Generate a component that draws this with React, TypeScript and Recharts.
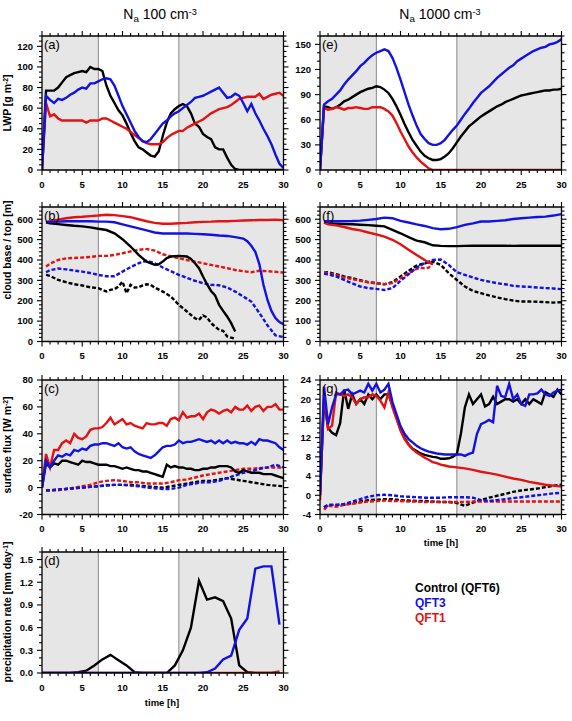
import React from "react";
import { LineChart, Line, XAxis, YAxis, ReferenceArea, ReferenceLine } from "recharts";

const BLACK = "#000000";
const BLUE = "#1212e4";
const RED = "#e41212";
const SHADE = "#e6e6e6";
const FONT = '"Liberation Sans", Arial, Helvetica, sans-serif';

// ---- time axes [h] ----
const T_HALF = [0, 0.5, 1, 1.5, 2, 2.5, 3, 3.5, 4, 4.5, 5, 5.5, 6, 6.5, 7, 7.5, 8, 8.5, 9, 9.5, 10, 10.5, 11, 11.5, 12, 12.5, 13, 13.5, 14, 14.5, 15, 15.5, 16, 16.5, 17, 17.5, 18, 18.5, 19, 19.5, 20, 20.5, 21, 21.5, 22, 22.5, 23, 23.5, 24, 24.5, 25, 25.5, 26, 26.5, 27, 27.5, 28, 28.5, 29, 29.5, 30];
const T_HOUR = [0.5, 1, 2, 3, 4, 5, 6, 7, 8, 9, 10, 11, 12, 13, 14, 15, 16, 17, 18, 19, 20, 21, 22, 23, 24, 25, 26, 27, 28, 29, 30];
const T_PRECIP = [0, 0.5, 1.5, 2.5, 3.5, 4.5, 5.5, 6.5, 7.5, 8.5, 9.5, 10.5, 11.5, 12.5, 13.5, 14.5, 15.5, 16.5, 17.5, 18.5, 19.5, 20.5, 21.5, 22.5, 23.5, 24.5, 25.5, 26.5, 27.5, 28.5, 29.5];

const X_MAJOR = [0, 5, 10, 15, 20, 25, 30];

// ---- (a) LWP, Na 100 ----
const A_CTRL = [0, 77, 77, 77, 80, 85, 90, 92, 94, 95, 96, 95, 100, 98, 98, 96, 82, 72, 65, 58, 53, 45, 36, 28, 22, 20, 17, 14, 13, 18, 33, 46, 55, 59, 62, 64, 62, 55, 45, 42, 35, 32, 30, 22, 20, 20, 12, 5, 1, 0, 0, 0, 0, 0, 0, 0, 0, 0, 0, 0, 0];
const A_QFT3 = [0, 72, 68, 65, 69, 68, 70, 73, 75, 78, 80, 79, 84, 84, 86, 88, 89, 88, 82, 72, 62, 54, 46, 38, 32, 28, 27, 30, 35, 40, 45, 48, 52, 55, 57, 60, 63, 66, 70, 71, 72, 74, 76, 78, 80, 75, 70, 71, 74, 72, 65, 57, 64, 55, 48, 40, 33, 25, 15, 6, 2];
const A_QFT1 = [0, 65, 52, 54, 50, 48, 48, 48, 48, 48, 48, 46, 48, 48, 48, 50, 50, 48, 46, 44, 42, 40, 37, 34, 31, 28, 26, 25, 25, 25, 27, 31, 34, 36, 38, 38, 41, 43, 45, 47, 49, 52, 55, 57, 59, 60, 61, 63, 66, 69, 70, 71, 71, 71, 74, 69, 71, 73, 74, 75, 72];

// ---- (e) LWP, Na 1000 ----
const E_CTRL = [0, 76, 75, 73, 75, 78, 82, 84, 87, 90, 93, 95, 97, 98, 100, 99, 96, 92, 85, 76, 66, 55, 45, 36, 29, 22, 17, 14, 12, 12, 13, 16, 20, 26, 33, 40, 46, 52, 56, 60, 64, 67, 70, 73, 76, 78, 81, 83, 85, 87, 89, 90, 91, 92, 93, 94, 95, 95, 96, 96, 97];
const E_QFT3 = [0, 78, 82, 85, 90, 95, 102, 108, 113, 118, 124, 128, 133, 137, 140, 142, 144, 142, 134, 122, 108, 93, 78, 65, 53, 43, 37, 32, 30, 30, 32, 36, 42, 48, 53, 60, 67, 73, 80, 86, 92, 96, 100, 105, 110, 114, 118, 122, 125, 130, 133, 136, 139, 142, 144, 146, 147, 150, 151, 153, 156];
const E_QFT1 = [0, 74, 72, 73, 75, 74, 72, 74, 74, 75, 74, 73, 73, 75, 75, 75, 73, 70, 65, 56, 46, 37, 28, 21, 15, 10, 6, 2, 0, 0, 0, 0, 0, 0, 0, 0, 0, 0, 0, 0, 0, 0, 0, 0, 0, 0, 0, 0, 0, 0, 0, 0, 0, 0, 0, 0, 0, 0, 0, 0, 0];

// ---- (b) cloud top (solid) / base (dashed), Na 100 ----
const T_B_CTRL = [0.5, 1, 2, 3, 4, 5, 6, 7, 8, 9, 10, 11, 12, 13, 14, 14.5, 15, 15.5, 16, 17, 18, 18.5, 19, 19.5, 20, 20.5, 21, 21.5, 22, 22.5, 23, 23.5, 24];
const B_CTRL_TOP = [585, 580, 576, 572, 568, 565, 560, 553, 547, 531, 502, 466, 425, 392, 376, 379, 392, 409, 417, 420, 417, 405, 384, 360, 319, 281, 248, 226, 180, 150, 123, 90, 49];
const T_B_CTRL_BASE = [0.5, 1, 2, 3, 4, 5, 6, 7, 8, 8.5, 9, 9.5, 10, 10.5, 11, 11.5, 12, 12.5, 13, 13.5, 14, 15, 16, 17, 18, 19, 19.5, 20, 20.5, 21, 22, 22.5, 23, 24];
const B_CTRL_BASE = [327, 322, 302, 291, 281, 275, 266, 262, 245, 253, 257, 270, 294, 237, 278, 265, 266, 275, 281, 278, 265, 245, 221, 180, 147, 114, 106, 128, 118, 90, 57, 52, 25, 13];
const T_B_QFT3 = [0.5, 1, 2, 3, 4, 5, 6, 7, 8, 9, 10, 11, 12, 13, 14, 15, 16, 17, 18, 19, 20, 21, 22, 23, 24, 25, 25.5, 26, 26.5, 27, 27.5, 28, 28.5, 29, 29.5, 30];
const B_QFT3_TOP = [585, 587, 588, 590, 590, 590, 590, 588, 588, 585, 575, 565, 555, 545, 535, 530, 530, 530, 530, 528, 526, 524, 520, 518, 512, 505, 492, 470, 440, 380, 280, 205, 150, 115, 95, 85];
const B_QFT3_BASE = [340, 350, 358, 354, 348, 343, 336, 327, 320, 320, 343, 365, 384, 396, 384, 363, 345, 327, 312, 298, 286, 278, 276, 265, 245, 221, 196, 140, 80, 30, 22];
const B_QFT1_TOP = [585, 590, 598, 605, 610, 612, 615, 618, 622, 620, 615, 610, 600, 590, 582, 578, 578, 580, 582, 585, 587, 588, 590, 590, 592, 594, 595, 596, 596, 598, 595];
const B_QFT1_BASE = [368, 382, 400, 408, 410, 412, 415, 420, 420, 425, 433, 442, 450, 454, 446, 428, 418, 409, 400, 392, 384, 376, 368, 360, 351, 345, 340, 347, 345, 342, 338];

// ---- (f) cloud top / base, Na 1000 ----
const F_CTRL_TOP = [582, 580, 578, 576, 575, 573, 571, 568, 565, 548, 531, 512, 495, 487, 472, 469, 468, 468, 469, 470, 470, 470, 470, 470, 469, 470, 470, 470, 470, 470, 470];
const F_CTRL_BASE = [338, 340, 330, 319, 311, 301, 291, 286, 281, 291, 319, 347, 373, 384, 392, 376, 335, 302, 270, 248, 237, 226, 216, 208, 201, 196, 196, 195, 193, 191, 193];
const F_QFT3_TOP = [590, 590, 590, 590, 591, 593, 597, 601, 608, 605, 592, 584, 575, 567, 556, 551, 553, 561, 572, 580, 589, 589, 592, 595, 601, 605, 608, 611, 613, 618, 625];
const F_QFT3_BASE = [332, 330, 319, 302, 286, 270, 262, 258, 253, 262, 298, 330, 363, 384, 400, 402, 376, 340, 327, 314, 302, 294, 286, 281, 273, 270, 268, 265, 262, 260, 257];
const T_F_QFT1_TOP = [0.5, 1, 2, 3, 4, 5, 6, 7, 8, 9, 10, 11, 12, 13, 13.5, 14];
const F_QFT1_TOP = [585, 575, 570, 562, 552, 545, 535, 526, 515, 499, 477, 450, 425, 400, 388, 380];
const T_F_QFT1_BASE = [0.5, 1, 2, 3, 4, 5, 6, 7, 8, 9, 10, 11, 12, 12.5, 13, 13.5, 14];
const F_QFT1_BASE = [335, 335, 327, 314, 306, 298, 291, 286, 281, 286, 311, 335, 356, 362, 359, 362, 384];

// ---- (c) surface flux, Na 100 (solid / dashed) ----
const C_CTRL = [0, 18, 15, 18, 17, 20, 20, 19, 18, 17, 20, 19, 19, 18, 17, 17, 17, 16, 16, 15, 14, 15, 14, 13, 13, 12, 12, 11, 10, 9, 8, 17, 15, 16, 15, 15, 14, 14, 13, 13, 14, 14, 15, 15, 16, 16, 16, 15, 12, 11, 13, 12, 11, 11, 11, 10, 10, 10, 9, 8, 7];
const C_QFT3 = [0, 20, 15, 20, 24, 23, 25, 24, 28, 27, 29, 28, 31, 32, 32, 33, 33, 32, 31, 33, 30, 29, 30, 27, 25, 24, 23, 22, 24, 27, 30, 31, 31, 32, 35, 33, 34, 34, 35, 36, 35, 34, 35, 33, 35, 33, 35, 33, 34, 33, 33, 32, 34, 32, 36, 35, 35, 34, 33, 30, 28];
const C_QFT1 = [0, 25, 15, 28, 28, 33, 35, 33, 40, 37, 36, 38, 43, 44, 44, 45, 48, 52, 47, 49, 51, 47, 48, 46, 45, 44, 48, 47, 47, 48, 48, 46, 51, 52, 50, 56, 52, 53, 53, 55, 51, 56, 58, 57, 55, 57, 58, 56, 60, 58, 58, 61, 57, 60, 61, 57, 60, 60, 62, 58, 58];
const C_CTRL_DASH = [-2, -2, -1.5, -1, -0.5, 0, 0.5, 1, 1.5, 2, 2, 2, 1.5, 1, 0.5, 0, 1, 2, 3, 4, 5, 5, 6, 7, 6, 5, 4, 3, 2, 1.5, 1];
const C_QFT3_DASH = [-2, -2, -1.5, -1, -0.5, 0, 0.5, 1, 2, 2, 2, 1.5, 1, 0, -0.5, -1, -1, 0, 2, 3, 4, 4, 5, 7, 9, 11, 12, 14, 15, 17, 15];
const C_QFT1_DASH = [-2, -2, -2, -1, 0, 1, 2, 4, 5, 5.5, 5, 4, 4, 3, 3, 3, 4, 5.5, 6, 7.5, 9, 10, 11, 12, 13, 14, 14, 14.5, 15, 15, 15];

// ---- (g) surface flux, Na 1000 ----
const G_CTRL = [0, 20, 14, 13, 12.5, 15, 22, 18, 21, 19, 20, 19, 21, 20, 21, 20, 21, 21, 18.7, 16.2, 13.7, 11.9, 10.6, 9.7, 9.2, 8.7, 8.4, 8.2, 8, 7.9, 7.6, 7.6, 7.7, 8, 8.6, 12.8, 18.3, 21, 19, 20, 21, 18.5, 19, 20.5, 19, 19.5, 20, 20, 19.5, 20, 19, 20, 19, 20, 19.5, 19, 21.5, 21, 20.5, 22, 21];
const G_QFT3 = [0, 22.6, 14.8, 18.3, 21, 21, 21.8, 22, 21, 21.4, 21.8, 21.4, 23.2, 21.8, 23.2, 21.4, 22, 23.2, 19.4, 16.9, 14.4, 12.8, 11.7, 11, 10.3, 9.8, 9.4, 9.1, 8.9, 8.7, 8.6, 8.5, 8.5, 8.5, 8.5, 8.5, 8.2, 8.6, 8.9, 12.8, 14.8, 15.2, 15.7, 15.2, 22.8, 20.7, 20.4, 23.2, 20, 21, 19, 18.6, 21, 21, 21.2, 22, 21, 20.7, 21.4, 21.8, 22];
const T_G_QFT1 = [0, 0.5, 1, 1.5, 2, 2.5, 3, 3.5, 4, 4.5, 5, 5.5, 6, 6.5, 7, 7.5, 8, 8.5, 9, 9.5, 10, 10.5, 11, 11.5, 12, 12.5, 13, 13.5, 14, 14.5, 15, 15.5, 16, 17, 18, 19, 20, 21, 22, 23, 24, 25, 26, 27, 28, 29, 30];
const G_QFT1 = [-1, 21, 13.8, 14.5, 21.4, 21, 20.7, 21, 20.4, 19, 20, 20.4, 20.4, 21, 20.7, 19.7, 18.3, 21.4, 18.3, 15.9, 13.5, 11.7, 10.5, 9.6, 8.9, 8.4, 7.8, 7.4, 6.9, 6.7, 6.4, 6.2, 6, 5.8, 5.6, 5.3, 4.9, 4.6, 4.3, 3.9, 3.5, 3.2, 2.8, 2.5, 2.2, 2, 1.8];
const G_CTRL_DASH = [-2.5, -2, -2, -2, -1.6, -1.3, -1, -0.9, -0.8, -0.8, -1, -1.1, -1.2, -1.2, -1.3, -1.4, -1.4, -1.6, -2.2, -1.5, -1, -0.5, -0.1, 0.3, 0.7, 1, 1.2, 1.4, 1.7, 2, 2.2];
const G_QFT3_DASH = [-2.5, -2, -2, -1.8, -1.3, -0.8, -0.3, 0, 0.1, 0, -0.2, -0.3, -0.4, -0.5, -0.5, -0.5, -0.4, -0.4, -0.4, -0.5, -1, -1.2, -1, -0.8, -0.6, -0.4, -0.2, 0, 0.2, 0.4, 0.5];
const G_QFT1_DASH = [-3, -2.2, -2.4, -2, -1.8, -1.5, -1.3, -1.2, -1.1, -1.2, -1.2, -1.3, -1.3, -1.4, -1.4, -1.4, -1.4, -1.4, -1.4, -1.3, -1.3, -1.3, -1.3, -1.3, -1.3, -1.3, -1.3, -1.3, -1.3, -1.3, -1.3];

// ---- (d) precipitation rate, Na 100 ----
const D_CTRL = [0, 0, 0, 0, 0, 0.01, 0.03, 0.1, 0.18, 0.24, 0.17, 0.1, 0.01, 0, 0, 0, 0, 0.1, 0.3, 0.6, 1.22, 0.97, 1.0, 0.95, 0.72, 0.1, 0.01, 0, 0, 0, 0];
const D_QFT3 = [0, 0, 0, 0, 0, 0, 0, 0, 0, 0, 0, 0, 0, 0, 0, 0, 0, 0, 0, 0, 0, 0.01, 0.06, 0.18, 0.23, 0.57, 0.72, 1.38, 1.41, 1.41, 0.64];
const D_QFT1 = [0, 0, 0, 0, 0, 0, 0, 0, 0, 0, 0, 0, 0, 0, 0, 0, 0, 0, 0, 0, 0, 0, 0, 0, 0, 0, 0, 0, 0, 0, 0.02];

type Series = { t: number[]; v: number[]; color: string; dashed?: boolean };

const zip = (t: number[], v: number[]) => t.map((x, i) => ({ t: x, v: v[i] }));

function tickRange(lo: number, hi: number, step: number) {
  const out: number[] = [];
  const start = Math.ceil(lo / step - 1e-9);
  for (let i = start; i * step <= hi + 1e-9; i++) out.push(Math.round(i * step * 1e6) / 1e6);
  return out;
}
const isMajor = (v: number, majors: number[]) => majors.some((m) => Math.abs(m - v) < 1e-6);

const TICK_STYLE = { stroke: "#000", strokeWidth: 1.1 };
const LABEL_STYLE = { fontFamily: FONT, fontSize: 9.5, fontWeight: "bold" as const, fill: "#000" };

function makeTick(side: string, majors: number[], fmt?: (v: number) => string) {
  return (p: any) => {
    const v = p.payload.value;
    const major = isMajor(v, majors);
    const len = major ? 5 : 3;
    const { x, y } = p;
    if (side === "bottom")
      return (
        <g>
          <line x1={x} x2={x} y1={y} y2={y + len} {...TICK_STYLE} />
          {major && fmt && (
            <text x={x} y={y + 17.5} textAnchor="middle" style={LABEL_STYLE}>
              {fmt(v)}
            </text>
          )}
        </g>
      );
    if (side === "top") return <line x1={x} x2={x} y1={y} y2={y - len} {...TICK_STYLE} />;
    if (side === "left")
      return (
        <g>
          <line x1={x} x2={x - len} y1={y} y2={y} {...TICK_STYLE} />
          {major && fmt && (
            <text x={x - 9} y={y + 3.3} textAnchor="end" style={LABEL_STYLE}>
              {fmt(v)}
            </text>
          )}
        </g>
      );
    return <line x1={x} x2={x + len} y1={y} y2={y} {...TICK_STYLE} />;
  };
}

type PanelProps = {
  left: number;
  top: number;
  w: number;
  h: number;
  yDomain: [number, number];
  yMajor: number[];
  yMinor: number;
  decimals: number;
  series: Series[];
  tag: string;
};

// space kept round the plot area for ticks and tick labels
const ML = 40;
const MT = 10;
const MR = 10;
const MB = 24;

function Panel({ left, top, w, h, yDomain, yMajor, yMinor, decimals, series, tag }: PanelProps) {
  const xTicks = tickRange(0, 30, 1);
  const yTicks = tickRange(yDomain[0], yDomain[1], yMinor);
  const yFmt = (v: number) => v.toFixed(decimals);
  const xFmt = (v: number) => String(v);
  const frame = { stroke: "#000", strokeWidth: 1.3 };
  return (
    <div style={{ position: "absolute", left: left - ML, top: top - MT }}>
      <LineChart width={w + ML + MR} height={h + MT + MB} margin={{ top: 0, right: 0, bottom: 0, left: 0 }}>
        <XAxis xAxisId="b" type="number" dataKey="t" domain={[0, 30]} allowDataOverflow ticks={xTicks} interval={0}
          height={MB} tickSize={0} tickMargin={0} tickLine={false} axisLine={frame} tick={makeTick("bottom", X_MAJOR, xFmt)} />
        <XAxis xAxisId="t" orientation="top" type="number" dataKey="t" domain={[0, 30]} allowDataOverflow ticks={xTicks} interval={0}
          height={MT} tickSize={0} tickMargin={0} tickLine={false} axisLine={frame} tick={makeTick("top", X_MAJOR)} />
        <YAxis yAxisId="l" type="number" domain={yDomain} allowDataOverflow ticks={yTicks} interval={0}
          width={ML} tickSize={0} tickMargin={0} tickLine={false} axisLine={frame} tick={makeTick("left", yMajor, yFmt)} />
        <YAxis yAxisId="r" orientation="right" type="number" domain={yDomain} allowDataOverflow ticks={yTicks} interval={0}
          width={MR} tickSize={0} tickMargin={0} tickLine={false} axisLine={frame} tick={makeTick("right", yMajor)} />
        <ReferenceArea xAxisId="b" yAxisId="l" x1={0} x2={7} fill={SHADE} fillOpacity={1} stroke="none" />
        <ReferenceArea xAxisId="b" yAxisId="l" x1={17} x2={30} fill={SHADE} fillOpacity={1} stroke="none" />
        <ReferenceLine xAxisId="b" yAxisId="l" x={7} stroke="#8a8a8a" strokeWidth={1} />
        <ReferenceLine xAxisId="b" yAxisId="l" x={17} stroke="#8a8a8a" strokeWidth={1} />
        {series.map((s, i) => (
          <Line
            key={i}
            xAxisId="b"
            yAxisId="l"
            data={zip(s.t, s.v)}
            dataKey="v"
            type="linear"
            stroke={s.color}
            strokeWidth={2.4}
            strokeDasharray={s.dashed ? "4 2" : undefined}
            dot={false}
            activeDot={false}
            isAnimationActive={false}
          />
        ))}
      </LineChart>
      <div style={{ position: "absolute", left: ML + 2, top: MT + 1, fontFamily: FONT, fontSize: 13, lineHeight: "15px" }}>{tag}</div>
    </div>
  );
}

const LX = 42;
const RX = 320;
const PW = 241.5;

function YTitle({ cy, children }: { cy: number; children: React.ReactNode }) {
  return (
    <div style={{ position: "absolute", left: 7, top: cy, transform: "translate(-50%, -50%) rotate(-90deg)", whiteSpace: "nowrap",
      fontFamily: FONT, fontSize: 10.5, fontWeight: "bold" }}>
      {children}
    </div>
  );
}

function Centered({ cx, cy, size, bold, children }: { cx: number; cy: number; size: number; bold?: boolean; children: React.ReactNode }) {
  return (
    <div style={{ position: "absolute", left: cx, top: cy, transform: "translate(-50%, -50%)", whiteSpace: "nowrap",
      fontFamily: FONT, fontSize: size, fontWeight: bold ? "bold" : "normal" }}>
      {children}
    </div>
  );
}

const sup = { fontSize: "0.65em", verticalAlign: "0.5em" } as const;
const sub = { fontSize: "0.7em", verticalAlign: "-0.25em" } as const;

export default function App() {
  const ab = [0, 20, 40, 60, 80, 100, 120];
  const ef = [0, 30, 60, 90, 120, 150];
  const bf = [0, 100, 200, 300, 400, 500, 600];
  return (
    <div style={{ position: "absolute", left: 0, top: 0, width: 572, height: 721, background: "#fff", overflow: "hidden" }}>
      <Panel left={LX} top={36} w={PW} h={134} yDomain={[0, 130]} yMajor={ab} yMinor={5} decimals={0} tag="(a)"
        series={[
          { t: T_HALF, v: A_CTRL, color: BLACK },
          { t: T_HALF, v: A_QFT1, color: RED },
          { t: T_HALF, v: A_QFT3, color: BLUE },
        ]} />
      <Panel left={RX} top={36} w={PW} h={134} yDomain={[0, 160]} yMajor={ef} yMinor={10} decimals={0} tag="(e)"
        series={[
          { t: T_HALF, v: E_CTRL, color: BLACK },
          { t: T_HALF, v: E_QFT1, color: RED },
          { t: T_HALF, v: E_QFT3, color: BLUE },
        ]} />
      <Panel left={LX} top={207} w={PW} h={134.5} yDomain={[0, 660]} yMajor={bf} yMinor={20} decimals={0} tag="(b)"
        series={[
          { t: T_B_CTRL_BASE, v: B_CTRL_BASE, color: BLACK, dashed: true },
          { t: T_HOUR, v: B_QFT1_BASE, color: RED, dashed: true },
          { t: T_HOUR, v: B_QFT3_BASE, color: BLUE, dashed: true },
          { t: T_B_CTRL, v: B_CTRL_TOP, color: BLACK },
          { t: T_HOUR, v: B_QFT1_TOP, color: RED },
          { t: T_B_QFT3, v: B_QFT3_TOP, color: BLUE },
        ]} />
      <Panel left={RX} top={207} w={PW} h={134.5} yDomain={[0, 660]} yMajor={bf} yMinor={20} decimals={0} tag="(f)"
        series={[
          { t: T_HOUR, v: F_CTRL_BASE, color: BLACK, dashed: true },
          { t: T_F_QFT1_BASE, v: F_QFT1_BASE, color: RED, dashed: true },
          { t: T_HOUR, v: F_QFT3_BASE, color: BLUE, dashed: true },
          { t: T_HOUR, v: F_CTRL_TOP, color: BLACK },
          { t: T_F_QFT1_TOP, v: F_QFT1_TOP, color: RED },
          { t: T_HOUR, v: F_QFT3_TOP, color: BLUE },
        ]} />
      <Panel left={LX} top={379.5} w={PW} h={134.5} yDomain={[-20, 80]} yMajor={[-20, 0, 20, 40, 60, 80]} yMinor={5} decimals={0} tag="(c)"
        series={[
          { t: T_HOUR, v: C_CTRL_DASH, color: BLACK, dashed: true },
          { t: T_HOUR, v: C_QFT1_DASH, color: RED, dashed: true },
          { t: T_HOUR, v: C_QFT3_DASH, color: BLUE, dashed: true },
          { t: T_HALF, v: C_CTRL, color: BLACK },
          { t: T_HALF, v: C_QFT1, color: RED },
          { t: T_HALF, v: C_QFT3, color: BLUE },
        ]} />
      <Panel left={RX} top={379.5} w={PW} h={134.5} yDomain={[-4, 24]} yMajor={[-4, 0, 4, 8, 12, 16, 20, 24]} yMinor={1} decimals={0} tag="(g)"
        series={[
          { t: T_HOUR, v: G_CTRL_DASH, color: BLACK, dashed: true },
          { t: T_HOUR, v: G_QFT1_DASH, color: RED, dashed: true },
          { t: T_HOUR, v: G_QFT3_DASH, color: BLUE, dashed: true },
          { t: T_HALF, v: G_CTRL, color: BLACK },
          { t: T_G_QFT1, v: G_QFT1, color: RED },
          { t: T_HALF, v: G_QFT3, color: BLUE },
        ]} />
      <Panel left={LX} top={551.5} w={PW} h={121} yDomain={[0, 1.6]} yMajor={[0, 0.3, 0.6, 0.9, 1.2, 1.5]} yMinor={0.1} decimals={1} tag="(d)"
        series={[
          { t: T_PRECIP, v: D_CTRL, color: BLACK },
          { t: T_PRECIP, v: D_QFT1, color: RED },
          { t: T_PRECIP, v: D_QFT3, color: BLUE },
        ]} />

      <Centered cx={160} cy={15} size={14}>
        N<span style={sub}>a</span> 100 cm<span style={sup}>-3</span>
      </Centered>
      <Centered cx={440} cy={15} size={14}>
        N<span style={sub}>a</span> 1000 cm<span style={sup}>-3</span>
      </Centered>

      <YTitle cy={103}>
        LWP [g m<span style={sup}>-2</span>]
      </YTitle>
      <YTitle cy={250}>cloud base / top [m]</YTitle>
      <YTitle cy={445}>
        surface flux [W m<span style={sup}>-2</span>]
      </YTitle>
      <YTitle cy={612}>
        precipitation rate [mm day<span style={sup}>-1</span>]
      </YTitle>

      <Centered cx={441} cy={542} size={9.5} bold>time [h]</Centered>
      <Centered cx={162} cy={702} size={9.5} bold>time [h]</Centered>

      <div style={{ position: "absolute", left: 415, top: 581, fontFamily: FONT, fontSize: 12, fontWeight: "bold", lineHeight: "15px" }}>
        <div style={{ color: BLACK }}>Control (QFT6)</div>
        <div style={{ color: BLUE }}>QFT3</div>
        <div style={{ color: RED }}>QFT1</div>
      </div>
    </div>
  );
}
